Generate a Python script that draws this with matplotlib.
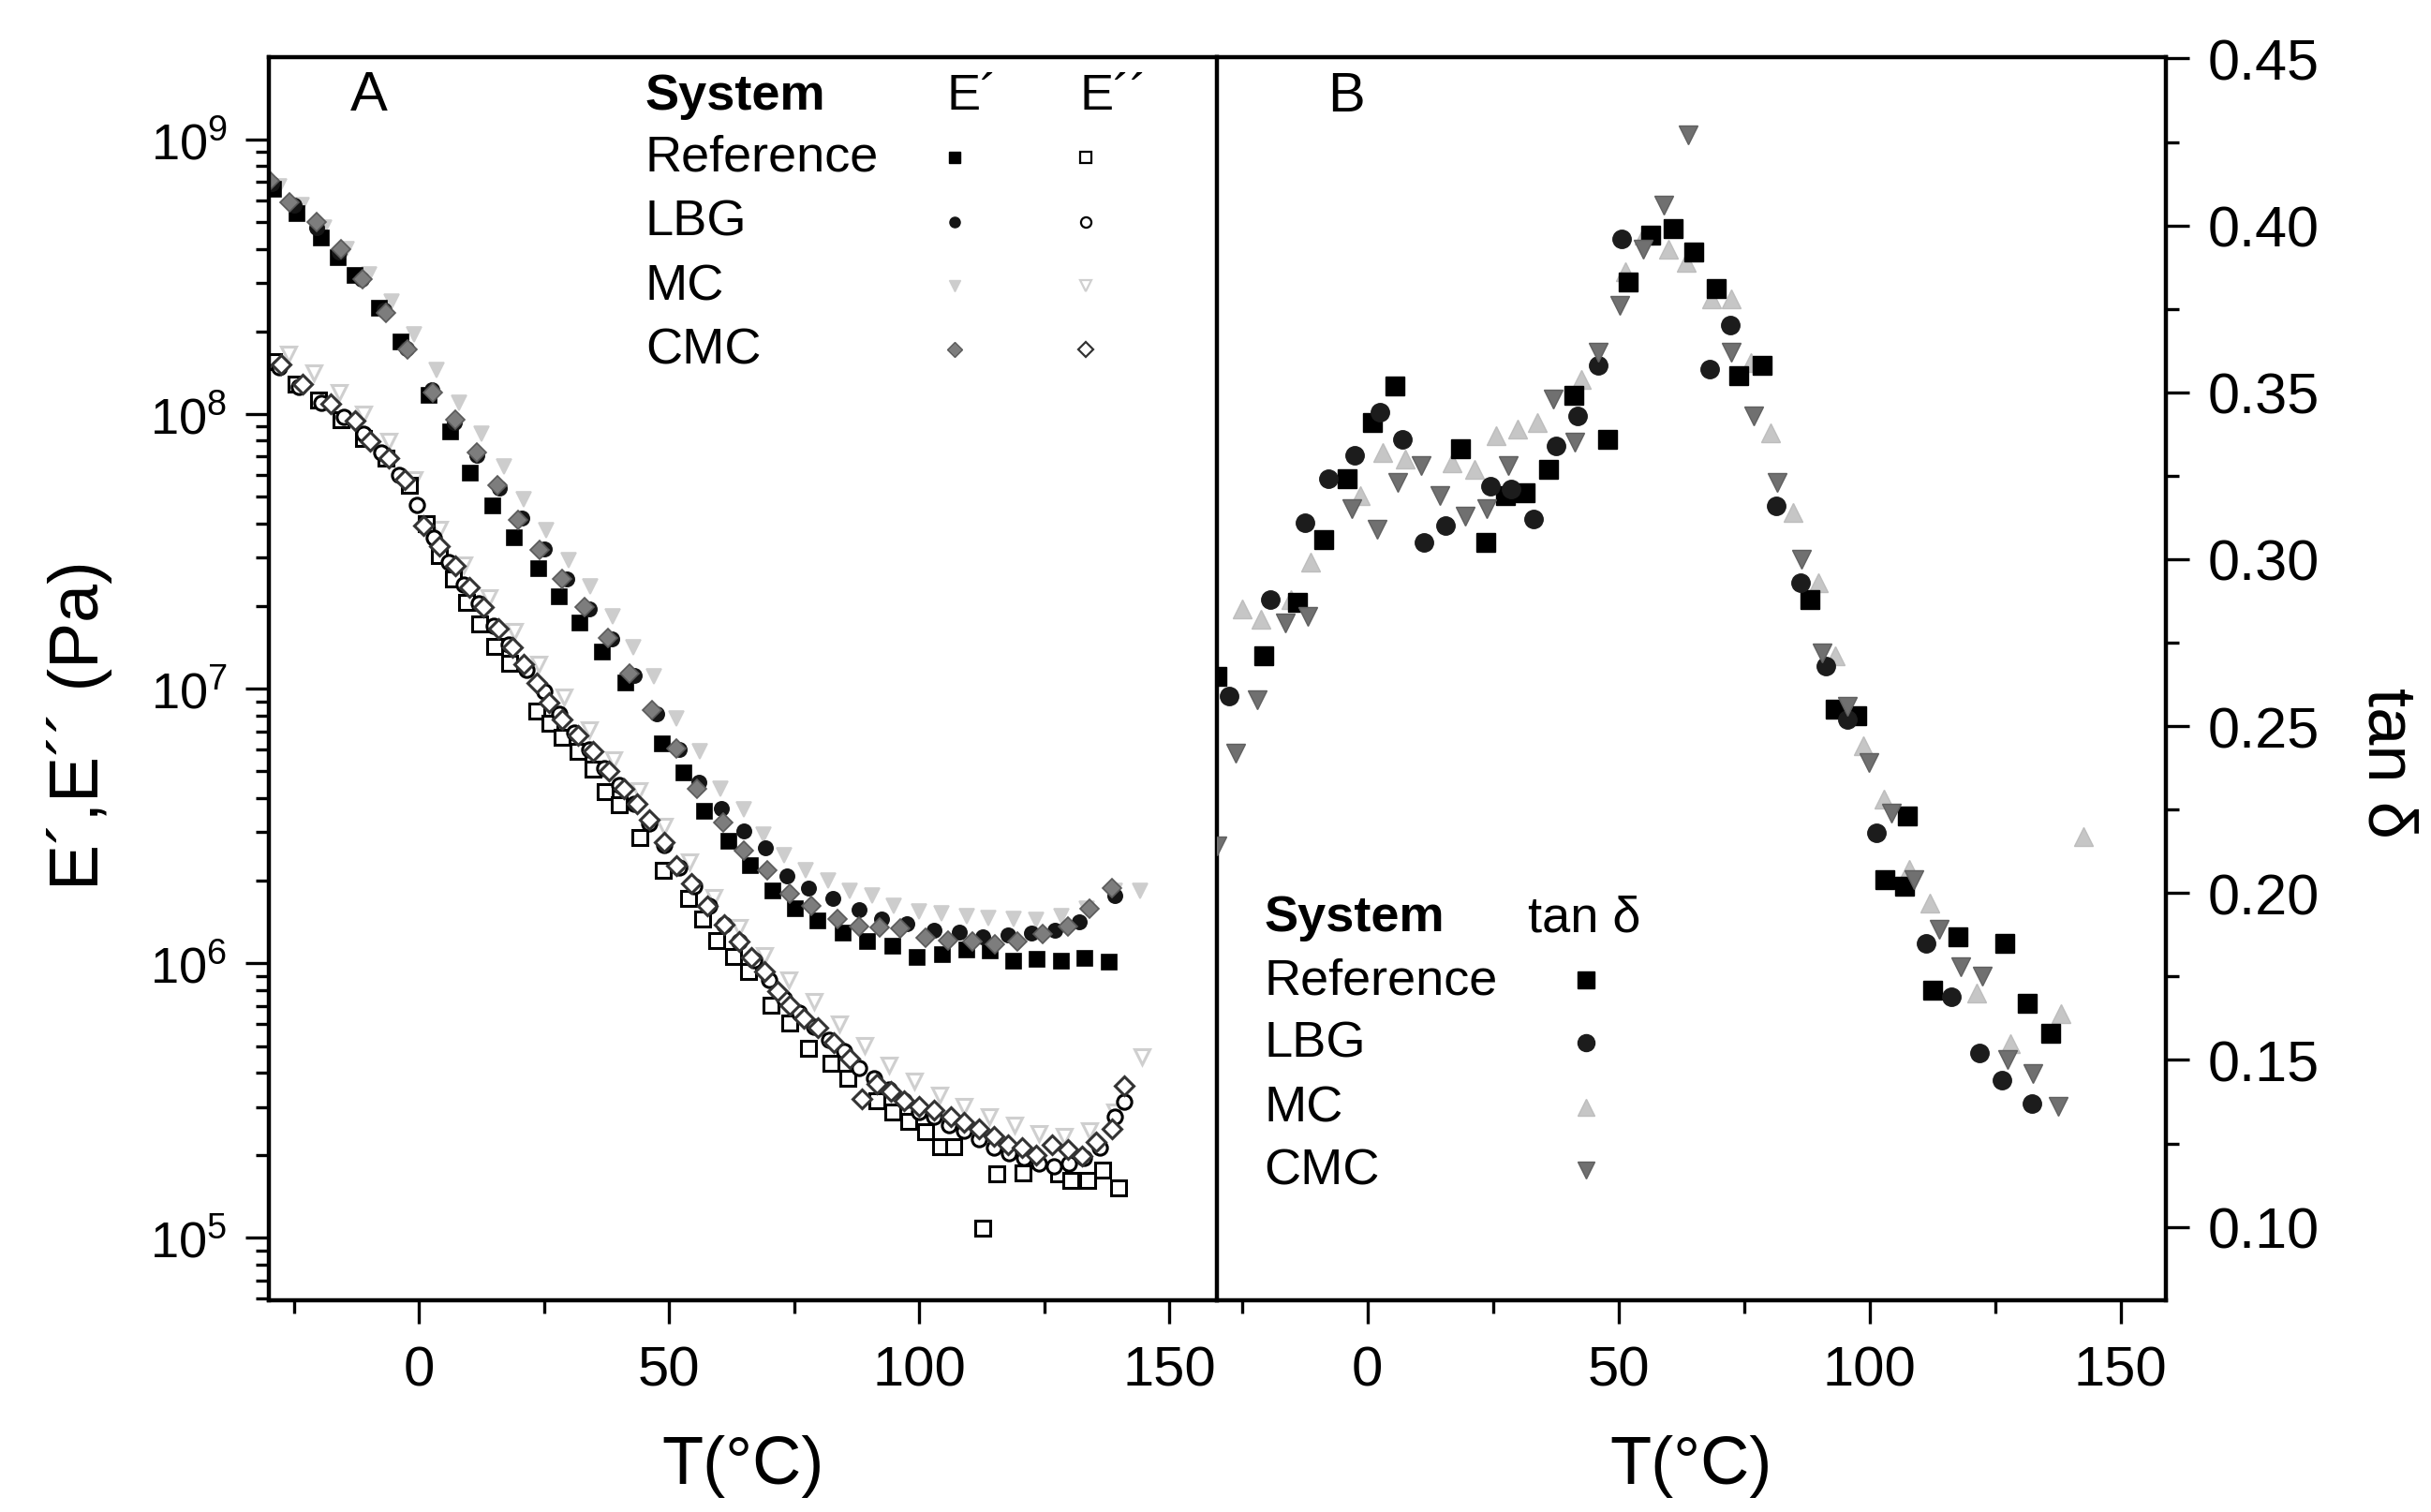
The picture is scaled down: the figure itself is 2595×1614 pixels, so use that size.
import numpy as np
import matplotlib
matplotlib.use("Agg")
import matplotlib.pyplot as plt
from matplotlib.ticker import MultipleLocator, FormatStrFormatter

plt.rcParams['font.family'] = ['Liberation Sans', 'DejaVu Sans']
plt.rcParams['mathtext.fontset'] = 'custom'
plt.rcParams['mathtext.rm'] = 'Liberation Sans'
plt.rcParams['mathtext.it'] = 'Liberation Sans:italic'
plt.rcParams['mathtext.bf'] = 'Liberation Sans:bold'

systems = ["Reference", "LBG", "MC", "CMC"]

# ---- panel A: storage (E') and loss (E'') modulus, values as log10(Pa) ----
ref_T1 = [-29.0, -24.3, -19.6, -16.2, -12.8, -7.9, -3.6, 2.0, 6.3, 10.3, 14.7, 19.0, 23.9, 28.0,
          32.2, 36.6, 41.3, 48.6, 52.9, 57.1, 61.9, 66.3, 70.7, 75.3, 79.8, 84.8, 89.6, 94.7,
          99.6, 104.7, 109.5, 114.2, 118.9, 123.6, 128.4, 133.1, 137.9]
ref_E1 = [8.82, 8.73, 8.64, 8.57, 8.505, 8.385, 8.264, 8.067, 7.936, 7.786, 7.666, 7.55, 7.438, 7.336,
          7.240, 7.133, 7.022, 6.800, 6.693, 6.555, 6.444, 6.357, 6.264, 6.20, 6.153, 6.111, 6.079, 6.061,
          6.020, 6.033, 6.05, 6.046, 6.009, 6.015, 6.009, 6.018, 6.006]

lbg_T1 = [-29.5, -25.0, -20.5, -16.0, -11.5, -7.0, -2.5, 2.5, 7.0, 11.5, 16.0, 20.5, 25.0, 29.5,
          34.0, 38.5, 43.0, 47.5, 52.0, 56.0, 60.5, 65.0, 69.3, 73.5, 77.9, 82.7, 88.0, 92.4,
          97.5, 102.9, 108.0, 112.6, 117.7, 122.5, 127.1, 132.0, 139.1]
lbg_E1 = [8.84, 8.76, 8.68, 8.59, 8.49, 8.38, 8.24, 8.09, 7.97, 7.85, 7.73, 7.62, 7.51, 7.40,
          7.29, 7.18, 7.05, 6.91, 6.78, 6.66, 6.564, 6.482, 6.421, 6.320, 6.274, 6.237, 6.194, 6.163,
          6.144, 6.120, 6.113, 6.098, 6.102, 6.11, 6.120, 6.15, 6.246]

mc_T1 = [-28.0, -23.5, -19.0, -14.5, -10.0, -5.5, -1.0, 3.5, 8.0, 12.5, 17.0, 21.0, 25.5, 29.9,
         34.3, 38.8, 42.8, 47.0, 51.4, 56.2, 60.2, 65.0, 68.9, 72.9, 77.3, 81.7, 86.1, 90.5,
         94.9, 100.0, 104.4, 109.5, 113.9, 118.9, 123.4, 128.4, 133.5, 139.1, 144.2]
mc_E1 = [8.83, 8.76, 8.68, 8.60, 8.51, 8.41, 8.29, 8.16, 8.04, 7.93, 7.81, 7.69, 7.577, 7.469,
         7.373, 7.262, 7.152, 7.044, 6.893, 6.773, 6.634, 6.560, 6.47, 6.394, 6.338, 6.301, 6.264, 6.246,
         6.209, 6.190, 6.181, 6.172, 6.166, 6.163, 6.157, 6.172, 6.200, 6.264, 6.264]

cmc_T1 = [-29.8, -25.8, -20.4, -15.5, -11.2, -6.5, -2.2, 2.7, 7.3, 11.6, 15.6, 19.8, 24.2, 28.7,
          33.1, 37.8, 42.0, 46.6, 51.4, 55.6, 60.9, 65.0, 69.7, 74.1, 78.5, 83.6, 88.0, 92.0,
          96.2, 101.3, 105.7, 110.7, 115.2, 119.6, 124.6, 129.7, 134.1, 138.5]
cmc_E1 = [8.85, 8.77, 8.70, 8.60, 8.49, 8.37, 8.235, 8.08, 7.98, 7.86, 7.74, 7.614, 7.506, 7.401,
          7.299, 7.185, 7.055, 6.921, 6.782, 6.634, 6.514, 6.412, 6.338, 6.255, 6.209, 6.163, 6.135, 6.13,
          6.126, 6.094, 6.083, 6.079, 6.070, 6.079, 6.107, 6.135, 6.200, 6.274]

ref_T2 = [-29.0, -24.5, -20.0, -15.5, -11.0, -6.5, -2.0, 1.5, 4.0, 6.9, 9.5, 12.2, 15.2, 18.2,
          23.6, 26.1, 28.7, 31.8, 34.7, 37.2, 40.0, 44.2, 48.9, 53.9, 56.7, 59.6, 62.8, 65.9,
          70.3, 74.1, 77.9, 82.3, 85.7, 91.5, 94.8, 97.9, 101.3, 104.2, 106.9, 112.6, 115.5,
          120.8, 127.8, 130.3, 133.7, 136.6, 139.8]
ref_E2 = [8.19, 8.11, 8.05, 7.98, 7.91, 7.84, 7.74, 7.60, 7.484, 7.401, 7.314, 7.235, 7.155, 7.092,
          6.920, 6.874, 6.824, 6.773, 6.708, 6.625, 6.579, 6.458, 6.338, 6.237, 6.163, 6.083, 6.024, 5.969,
          5.848, 5.784, 5.691, 5.636, 5.580, 5.50, 5.46, 5.423, 5.386, 5.331, 5.331, 5.035, 5.233,
          5.238, 5.233, 5.211, 5.211, 5.248, 5.183]

lbg_T2 = [-28.0, -24.0, -19.5, -15.0, -11.0, -7.5, -4.0, -0.5, 3.0, 6.0, 9.0, 12.0, 15.0, 18.0,
          21.5, 25.0, 28.0, 31.0, 34.0, 37.0, 40.0, 43.0, 46.0, 49.0, 52.0, 55.0, 58.0, 61.0,
          64.0, 67.0, 70.0, 73.0, 76.0, 79.0, 82.0, 85.0, 88.0, 91.0, 94.0, 97.0, 100.0, 103.0,
          106.0, 109.0, 112.0, 115.0, 118.0, 121.0, 124.0, 127.0, 130.0, 133.0, 136.0, 139.0, 141.0]
lbg_E2 = [8.17, 8.10, 8.04, 7.99, 7.93, 7.86, 7.78, 7.67, 7.55, 7.46, 7.38, 7.31, 7.23, 7.16,
          7.07, 6.99, 6.91, 6.84, 6.78, 6.71, 6.65, 6.58, 6.51, 6.43, 6.35, 6.28, 6.21, 6.14,
          6.08, 6.01, 5.94, 5.87, 5.82, 5.77, 5.72, 5.68, 5.62, 5.58, 5.54, 5.50, 5.46, 5.44,
          5.41, 5.39, 5.36, 5.33, 5.31, 5.29, 5.27, 5.26, 5.27, 5.29, 5.33, 5.44, 5.497]

mc_T2 = [-26.0, -21.0, -16.0, -11.0, -6.0, -1.0, 4.0, 9.0, 14.0, 19.0, 24.0, 29.0, 34.0, 39.0,
         44.0, 49.0, 54.0, 59.0, 64.0, 69.0, 74.0, 79.0, 84.0, 89.0, 94.0, 99.0, 104.0, 109.0,
         114.0, 119.0, 124.0, 129.0, 134.0, 139.0, 144.6]
mc_E2 = [8.22, 8.15, 8.08, 8.00, 7.90, 7.76, 7.58, 7.45, 7.33, 7.21, 7.09, 6.97, 6.85, 6.74,
         6.63, 6.50, 6.37, 6.24, 6.13, 6.03, 5.94, 5.86, 5.78, 5.70, 5.63, 5.57, 5.52, 5.48,
         5.44, 5.41, 5.38, 5.37, 5.39, 5.46, 5.66]

cmc_T2 = [-27.6, -23.3, -17.7, -12.8, -9.7, -6.0, -2.9, 0.9, 4.0, 7.2, 10.0, 12.9, 15.8, 18.6,
          21.0, 23.6, 26.0, 28.7, 31.8, 34.7, 38.0, 41.0, 43.5, 46.1, 49.0, 51.4, 54.5, 57.7,
          61.0, 64.0, 66.5, 69.1, 71.6, 74.1, 77.0, 79.8, 83.0, 86.1, 88.6, 91.5, 94.3, 97.0,
          100.0, 103.0, 106.3, 109.0, 112.0, 115.0, 117.7, 120.5, 123.4, 126.5, 129.7, 132.5,
          135.4, 138.5, 141.0]
cmc_E2 = [8.18, 8.108, 8.037, 7.977, 7.90, 7.84, 7.76, 7.595, 7.52, 7.447, 7.37, 7.299, 7.22, 7.152,
          7.09, 7.022, 6.95, 6.889, 6.83, 6.773, 6.70, 6.634, 6.58, 6.523, 6.44, 6.357, 6.29, 6.209,
          6.14, 6.079, 6.02, 5.969, 5.90, 5.848, 5.80, 5.765, 5.71, 5.654, 5.506, 5.56, 5.534, 5.50,
          5.479, 5.465, 5.442, 5.42, 5.396, 5.37, 5.340, 5.33, 5.303, 5.34, 5.322, 5.30,
          5.349, 5.396, 5.553]

# ---- panel B: tan delta ----
ref_T3 = [-30.0, -20.6, -14.0, -8.8, -4.1, 1.0, 5.4, 18.5, 23.5, 27.5, 31.3, 36.0, 41.0, 47.8,
          51.9, 56.3, 60.9, 65.0, 69.4, 74.0, 78.5, 88.1, 93.1, 97.5, 103.1, 106.9, 107.5, 112.5,
          117.5, 126.9, 131.3, 136.0]
ref_tan = [0.265, 0.271, 0.287, 0.306, 0.324, 0.341, 0.352, 0.333, 0.305, 0.319, 0.320, 0.327, 0.349, 0.336,
           0.383, 0.397, 0.399, 0.392, 0.381, 0.355, 0.358, 0.288, 0.255, 0.253, 0.204, 0.202, 0.223, 0.171,
           0.187, 0.185, 0.167, 0.158]

lbg_T3 = [-27.5, -19.4, -12.5, -7.8, -2.5, 2.5, 6.9, 11.3, 15.6, 24.5, 28.5, 33.1, 37.5, 41.9, 46.0,
          50.6, 68.1, 72.3, 81.3, 86.3, 91.3, 95.6, 101.3, 111.3, 116.3, 121.9, 126.3, 132.3]
lbg_tan = [0.259, 0.288, 0.311, 0.324, 0.331, 0.344, 0.336, 0.305, 0.310, 0.322, 0.321, 0.312, 0.334, 0.343, 0.358,
           0.396, 0.357, 0.370, 0.316, 0.293, 0.268, 0.252, 0.218, 0.185, 0.169, 0.152, 0.144, 0.137]

mc_T3 = [-25.0, -21.3, -15.3, -11.3, -1.5, 3.1, 7.5, 16.9, 21.3, 25.6, 29.8, 33.8, 42.5, 51.3, 55.0,
         60.0, 63.5, 68.5, 72.5, 76.3, 80.3, 84.8, 89.8, 93.1, 98.8, 102.9, 107.9, 111.9, 121.3, 128.1,
         138.1, 142.5]
mc_tan = [0.285, 0.282, 0.288, 0.299, 0.319, 0.332, 0.330, 0.329, 0.327, 0.337, 0.339, 0.341, 0.354, 0.386, 0.397,
          0.393, 0.389, 0.378, 0.378, 0.359, 0.338, 0.314, 0.293, 0.271, 0.244, 0.228, 0.207, 0.197, 0.170, 0.155,
          0.164, 0.217]

cmc_T3 = [-30.0, -26.3, -21.9, -16.3, -11.9, -3.1, 1.9, 6.0, 10.6, 14.4, 19.4, 23.8, 28.1, 36.9, 41.3,
          45.9, 50.3, 54.8, 59.0, 63.8, 72.5, 76.9, 81.5, 86.5, 90.6, 95.6, 99.8, 104.4, 108.8, 113.8,
          118.1, 122.5, 127.5, 132.5, 137.5]
cmc_tan = [0.214, 0.242, 0.258, 0.281, 0.283, 0.315, 0.309, 0.323, 0.328, 0.319, 0.313, 0.315, 0.328, 0.348, 0.335,
           0.362, 0.376, 0.393, 0.406, 0.427, 0.362, 0.343, 0.323, 0.300, 0.272, 0.256, 0.239, 0.224, 0.204, 0.189,
           0.178, 0.175, 0.150, 0.146, 0.136]

# ---- styles ----
styleA = {
    "Reference": dict(marker='s', fc='black', ec='black'),
    "LBG": dict(marker='o', fc='#151515', ec='#151515'),
    "MC": dict(marker='v', fc='#cdcdcd', ec='#cdcdcd'),
    "CMC": dict(marker='D', fc='#7d7d7d', ec='#5a5a5a'),
}
openA = {
    "Reference": '#000000', "LBG": '#000000', "MC": '#cfcfcf', "CMC": '#333333',
}
styleB = {
    "Reference": dict(marker='s', fc='black', ec='black'),
    "LBG": dict(marker='o', fc='#1c1c1c', ec='#1c1c1c'),
    "MC": dict(marker='^', fc='#c6c6c6', ec='#bdbdbd'),
    "CMC": dict(marker='v', fc='#707070', ec='#606060'),
}
sizeA = {"Reference": 11, "LBG": 11, "MC": 11, "CMC": 10}
sizeB = {"Reference": 14, "LBG": 14, "MC": 15, "CMC": 15}

E1 = {"Reference": (ref_T1, ref_E1), "LBG": (lbg_T1, lbg_E1), "MC": (mc_T1, mc_E1), "CMC": (cmc_T1, cmc_E1)}
E2 = {"Reference": (ref_T2, ref_E2), "LBG": (lbg_T2, lbg_E2), "MC": (mc_T2, mc_E2), "CMC": (cmc_T2, cmc_E2)}
TD = {"Reference": (ref_T3, ref_tan), "LBG": (lbg_T3, lbg_tan), "MC": (mc_T3, mc_tan), "CMC": (cmc_T3, cmc_tan)}

fig = plt.figure(figsize=(25.95, 16.15), dpi=100)
axA = fig.add_axes([287 / 2595, 1 - 1389 / 1615, (1299 - 287) / 2595, (1389 - 62) / 1615])
axB = fig.add_axes([1299 / 2595, 1 - 1389 / 1615, (2312 - 1299) / 2595, (1389 - 62) / 1615])
axB.patch.set_visible(False)  # keep the shared divider line fully visible

draw_order = ["MC", "Reference", "LBG", "CMC"]

# open symbols (E'') first, filled (E') on top
for name in draw_order:
    T, v = E2[name]
    axA.plot(T, 10 ** np.array(v), linestyle='none', marker=styleA[name]['marker'],
             markersize=sizeA[name], markerfacecolor='white', markeredgecolor=openA[name],
             markeredgewidth=2.2)
for name in draw_order:
    T, v = E1[name]
    axA.plot(T, 10 ** np.array(v), linestyle='none', marker=styleA[name]['marker'],
             markersize=sizeA[name], markerfacecolor=styleA[name]['fc'],
             markeredgecolor=styleA[name]['ec'], markeredgewidth=1.2)

for name in draw_order:
    T, v = TD[name]
    axB.plot(T, v, linestyle='none', marker=styleB[name]['marker'], markersize=sizeB[name],
             markerfacecolor=styleB[name]['fc'], markeredgecolor=styleB[name]['ec'],
             markeredgewidth=1.0)

# axes A
axA.set_yscale('log')
axA.set_xlim(-30, 159.5)
axA.set_ylim(10 ** 4.773, 10 ** 9.30)
axA.xaxis.set_major_locator(MultipleLocator(50))
axA.xaxis.set_minor_locator(MultipleLocator(25))
axA.tick_params(axis='both', which='both', direction='out', width=2.4, top=False, right=False)
axA.tick_params(axis='both', which='major', length=18)
axA.tick_params(axis='both', which='minor', length=10)
axA.tick_params(axis='x', which='major', labelsize=43, pad=16)
axA.tick_params(axis='y', which='major', labelsize=39, pad=14)

# axes B
axB.set_xlim(-30, 159)
axB.set_ylim(0.078, 0.4504)
axB.xaxis.set_major_locator(MultipleLocator(50))
axB.xaxis.set_minor_locator(MultipleLocator(25))
axB.yaxis.set_major_locator(MultipleLocator(0.05))
axB.yaxis.set_minor_locator(MultipleLocator(0.025))
axB.yaxis.set_major_formatter(FormatStrFormatter('%.2f'))
axB.yaxis.tick_right()
axB.tick_params(axis='both', which='both', direction='out', width=2.4, top=False, left=False)
axB.tick_params(axis='both', which='major', length=18)
axB.tick_params(axis='both', which='minor', length=10)
axB.tick_params(axis='x', which='major', labelsize=43, pad=16)
axB.tick_params(axis='y', which='major', labelsize=44, pad=14)

for ax in (axA, axB):
    for sp in ax.spines.values():
        sp.set_linewidth(3.2)
axB.spines['left'].set_visible(False)

# axis labels
axA.set_xlabel('T(°C)', fontsize=52)
axA.xaxis.set_label_coords(0.5, -0.108)
axB.set_xlabel('T(°C)', fontsize=52)
axB.xaxis.set_label_coords(0.5, -0.108)
axA.set_ylabel('E´,E´´ (Pa)', fontsize=53, va='center')
axA.yaxis.set_label_coords(-0.2, 0.463)
axB.yaxis.set_label_position('right')
axB.set_ylabel('tan δ', fontsize=52, rotation=270, va='center')
axB.yaxis.set_label_coords(1.232, 0.433)

# panel letters and key blocks
axA.text(0.086, 0.9694, 'A', transform=axA.transAxes, fontsize=43, va='center', ha='left')
axB.text(0.1165, 0.9687, 'B', transform=axB.transAxes, fontsize=43, va='center', ha='left')

txt = 39
axA.text(0.397, 0.9694, 'System', transform=axA.transAxes, fontsize=txt, fontweight='bold', va='center')
axA.text(0.7145, 0.9694, 'E´', transform=axA.transAxes, fontsize=txt, va='center')
axA.text(0.855, 0.9694, 'E´´', transform=axA.transAxes, fontsize=txt, va='center')
rowsA = [0.9194, 0.8676, 0.8161, 0.7646]
for name, yy in zip(systems, rowsA):
    axA.text(0.397, yy, name, transform=axA.transAxes, fontsize=txt, va='center')
    st = styleA[name]
    axA.plot([0.723], [yy], transform=axA.transAxes, linestyle='none', marker=st['marker'],
             markersize=8, markerfacecolor=st['fc'], markeredgecolor=st['ec'], clip_on=False)
    axA.plot([0.8617], [yy], transform=axA.transAxes, linestyle='none', marker=st['marker'],
             markersize=8, markerfacecolor='white', markeredgecolor=openA[name],
             markeredgewidth=1.6, clip_on=False)

axB.text(0.050, 0.308, 'System', transform=axB.transAxes, fontsize=txt, fontweight='bold', va='center')
axB.text(0.328, 0.308, 'tan δ', transform=axB.transAxes, fontsize=txt, va='center')
rowsB = [0.2577, 0.2072, 0.1549, 0.1044]
for name, yy in zip(systems, rowsB):
    axB.text(0.050, yy, name, transform=axB.transAxes, fontsize=txt, va='center')
    st = styleB[name]
    axB.plot([0.389], [yy], transform=axB.transAxes, linestyle='none', marker=st['marker'],
             markersize=13, markerfacecolor=st['fc'], markeredgecolor=st['ec'], clip_on=False)

fig.savefig('out.png', dpi=100)
